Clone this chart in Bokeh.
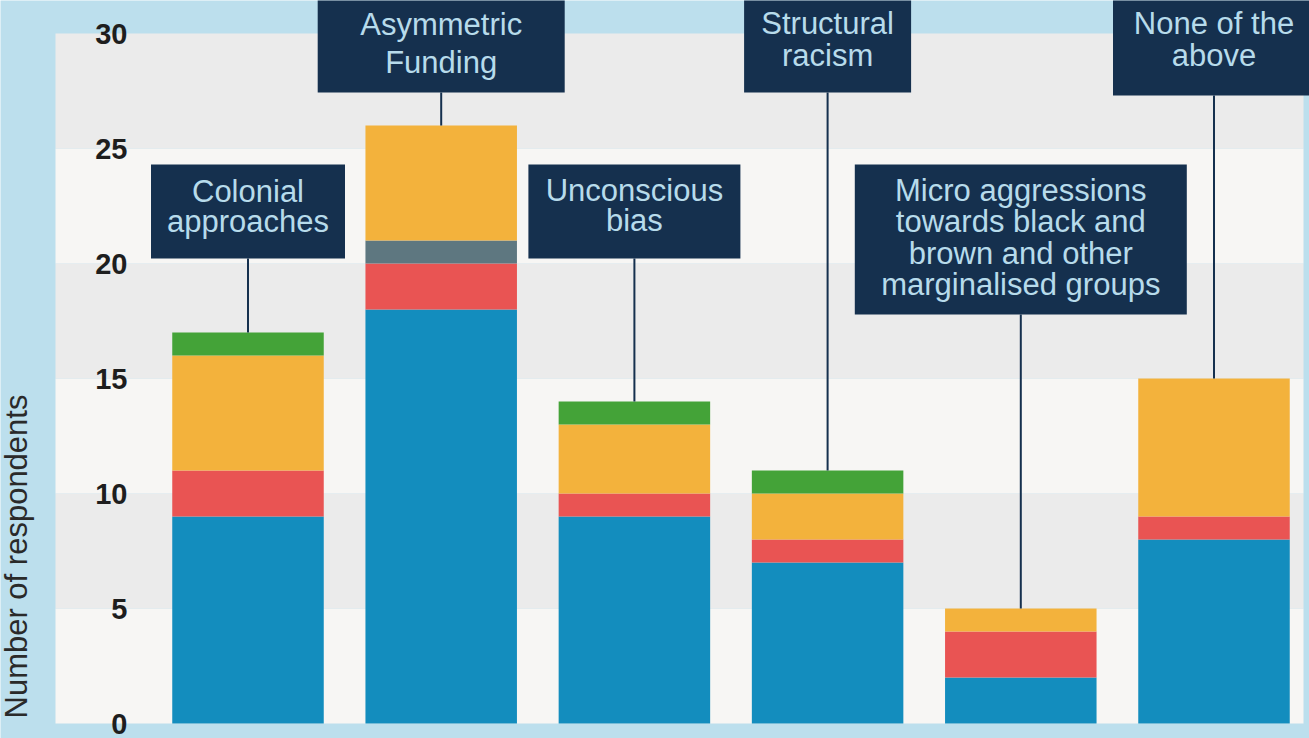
import math
from bokeh.plotting import figure
from bokeh.models import Range1d, ColumnDataSource
from bokeh.core.properties import value
from bokeh.embed import file_html
from bokeh.resources import INLINE

# ---------------- data ----------------
categories = ["Colonial\napproaches", "Asymmetric\nFunding", "Unconscious\nbias",
              "Structural\nracism",
              "Micro aggressions\ntowards black and\nbrown and other\nmarginalised groups",
              "None of the\nabove"]
blue = [9, 18, 9, 7, 2, 8]
red = [2, 2, 1, 1, 2, 1]
grey = [0, 1, 0, 0, 0, 0]
yellow = [5, 5, 3, 2, 1, 6]
green = [1, 0, 1, 1, 0, 0]
y_ticks = [0, 5, 10, 15, 20, 25, 30]
y_label = "Number of respondents"

series_names = ["blue", "red", "grey", "yellow", "green"]
series_colors = ["#138dbe", "#e95453", "#5e7780", "#f3b23c", "#44a338"]

# ---------------- layout helpers (pixel -> data) ----------------
W, H = 1309, 738
X0PX, XSTEP = 247.5, 193.2
Y0PX, YSTEP = 723.0, 23.0


def xd(px):
    return (px - X0PX) / XSTEP


def yd(px):
    return (Y0PX - px) / YSTEP


BG = "#bcdfed"
NAVY = "#15304e"
TXT = "#b7dbeb"

p = figure(width=W, height=H, min_border=0, x_axis_type=None, y_axis_type=None,
           toolbar_location=None, output_backend="svg",
           x_range=Range1d(xd(0), xd(W)), y_range=Range1d(yd(H), yd(0)),
           background_fill_color=BG, border_fill_color=BG, outline_line_color=None)

# alternating horizontal bands
band_left, band_right = xd(55), xd(1303)
b_bottom = y_ticks[:-1]
b_top = y_ticks[1:]
b_col = ["#f7f6f4" if i % 2 == 0 else "#ebebeb" for i in range(len(b_bottom))]
p.quad(left=band_left, right=band_right, bottom=b_bottom, top=b_top,
       fill_color=b_col, line_color=None)

# stacked bars
xs = list(range(len(categories)))
src = ColumnDataSource(dict(x=xs, blue=blue, red=red, grey=grey, yellow=yellow, green=green))
p.vbar_stack(series_names, x="x", width=151.5 / XSTEP, color=series_colors,
             line_color=None, source=src)

totals = [b + r + g + y + gr for b, r, g, y, gr in zip(blue, red, grey, yellow, green)]

# annotation boxes (layout: widths/rows in pixels)
box_w_px = [194, 247, 212, 167, 332, 202]
box_top_px = [164, -5, 164, -5, 164, -5]
box_bot_px = [258, 92, 258, 92, 314, 95]
first_base_px = [202.5, 36, 201.7, 35, 201.7, 35]
line_gap_px = [30, 38, 30, 31.7, 31.4, 31.7]
BASE_SHIFT = 12  # renderer baseline correction

# connectors
p.segment(x0=xs, x1=xs, y0=totals, y1=[yd(b) for b in box_bot_px],
          line_color=NAVY, line_width=2)

p.quad(left=[x - box_w_px[i] / 2 / XSTEP for i, x in enumerate(xs)],
       right=[x + box_w_px[i] / 2 / XSTEP for i, x in enumerate(xs)],
       top=[yd(t) for t in box_top_px], bottom=[yd(b) for b in box_bot_px],
       fill_color=NAVY, line_color=None)

tx, ty, tt = [], [], []
for i, cat in enumerate(categories):
    for j, line in enumerate(cat.split("\n")):
        tx.append(xs[i])
        ty.append(yd(first_base_px[i] + j * line_gap_px[i] - BASE_SHIFT))
        tt.append(line)
p.text(x=tx, y=ty, text=tt, text_align="center", text_baseline="alphabetic",
       text_font=value("Liberation Sans"), text_font_size="31px", text_color=TXT)

# y tick labels
p.text(x=[xd(127)] * len(y_ticks), y=y_ticks, text=[str(t) for t in y_ticks],
       text_align="right", text_baseline="middle", text_font=value("Liberation Sans"),
       text_font_size="29px", text_font_style="bold", text_color="#1e1e1e")

# y axis title
p.text(x=[xd(28 - BASE_SHIFT)], y=[yd(718)], text=[y_label], angle=math.pi / 2,
       text_align="left", text_baseline="alphabetic", text_font=value("Liberation Sans"),
       text_font_size="31px", text_color="#2a2a2a")

open("out.html", "w").write(file_html(p, INLINE))
